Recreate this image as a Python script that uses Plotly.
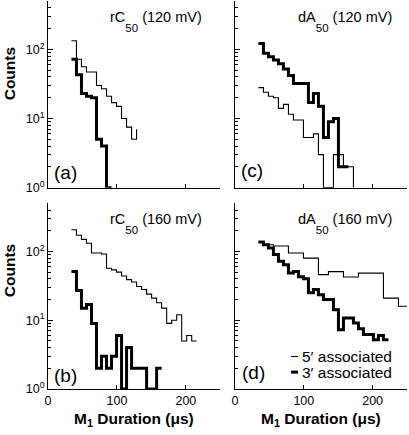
import numpy as np
import plotly.graph_objects as go

# ---- data (counts per histogram bin) ----
bin_start_us = 34.0      # first bin edge (µs)
bin_width_us = 7.27      # bin width (µs)

# (a) rC50, 120 mV
a_5prime = [133, 72, 56, 47, 47, 30, 27, 21, 17, 15, 10, 7.5, 5, 7]
a_3prime = [72, 43, 23, 21, 20, 5, 4, 1, 1]
# (b) rC50, 160 mV
b_5prime = [207, 172, 150, 132, 95, 95, 92, 57, 54, 50, 44, 39, 36, 31, 28, 24,
            21, 18, 15, 9, 10, 12, 5, 6, 5, 5]
b_3prime = [51, 27, 15, 17, 9, 2, 3, 2, 3, 6, 1, 4, 2, 2, 2, 1, 1, 2, 2]
# (c) dA50, 120 mV
c_5prime = [28, 24, 21, 20, 14, 16, 11.5, 9.5, 9.5, 5.3, 5.3, 6, 3, 1, 1, 3, 3,
            2, 2, 1]
c_3prime = [122, 88, 78, 70, 62, 52, 42, 32, 32, 32, 17, 23, 15, 5.3, 9, 10, 2,
            2, 2]
# (d) dA50, 160 mV
d_5prime = [135, 125, 125, 120, 120, 120, 95, 95, 95, 80, 80, 80, 46, 46, 51, 51,
            51, 42.5, 42.5, 42.5, 48.5, 48.5, 48.5, 48.5, 48.5, 21, 21, 21, 16,
            16, 16]
d_3prime = [137, 125, 112, 90, 72, 64, 48.5, 51, 43, 40, 25, 28, 23.5, 20, 20,
            14.2, 7.3, 10.8, 10.8, 9.1, 7.5, 6.2, 6.2, 5.2, 6, 5.2, 5.2]

panel_molecules = [("rC", "50"), ("dA", "50"), ("rC", "50"), ("dA", "50")]
panel_voltages = ["(120 mV)", "(120 mV)", "(160 mV)", "(160 mV)"]
panel_letters = ["(a)", "(c)", "(b)", "(d)"]
series_names = ["5\u2032 associated", "3\u2032 associated"]
series_widths = [1.1, 3]
ytick_vals = [1, 10, 100]
ytick_text = ["10<sup>0</sup>", "10<sup>1</sup>", "10<sup>2</sup>"]
xtick_vals = [0, 100, 200]

FONT = "Liberation Sans, Arial, sans-serif"

def edges_for(vals):
    n = len(vals)  # last value is the closing vertical step
    return bin_start_us + bin_width_us * np.arange(n)

fig = go.Figure()

panels = [(a_5prime, a_3prime), (c_5prime, c_3prime),
          (b_5prime, b_3prime), (d_5prime, d_3prime)]
for i, pair in enumerate(panels):
    ax = "" if i == 0 else str(i + 1)
    for vals, w, name in zip(pair, series_widths, series_names):
        fig.add_trace(go.Scatter(
            x=edges_for(vals), y=vals, mode="lines", line_shape="hv",
            line=dict(color="black", width=w), name=name,
            showlegend=False, xaxis="x" + ax, yaxis="y" + ax,
        ))

# layout geometry
xdom_left = [0, 0.48]
xdom_right = [0.521, 1]
ydom_top = [0.519, 1]
ydom_bot = [0, 0.4785]

minor_vals = [v * m for m in (1, 10, 100) for v in range(2, 10) if v * m <= 500]

def xaxis(dom, anchor, labels):
    return dict(domain=dom, anchor=anchor, range=[0, 250], showline=True,
                linecolor="black", linewidth=1, ticks="inside", ticklen=4,
                tickcolor="black", tickvals=xtick_vals, showgrid=False,
                zeroline=False, showticklabels=labels,
                tickfont=dict(size=12.5, family=FONT, color="black"))

def yaxis(dom, anchor, labels):
    return dict(domain=dom, anchor=anchor, type="log", range=[0, 2.7],
                showline=True, linecolor="black", linewidth=1, ticks="inside",
                ticklen=5, tickcolor="black", tickvals=ytick_vals,
                ticktext=ytick_text, showgrid=False, zeroline=False,
                showticklabels=labels,
                minor=dict(ticks="inside", ticklen=2.5, tickcolor="black",
                           tickmode="array", tickvals=minor_vals, showgrid=False),
                tickfont=dict(size=12.5, family=FONT, color="black"))

fig.update_layout(
    width=409, height=435,
    margin=dict(l=48, r=2, t=1, b=46),
    paper_bgcolor="white", plot_bgcolor="white",
    font=dict(family=FONT, color="black"),
    xaxis=xaxis(xdom_left, "y", False),
    yaxis=yaxis(ydom_top, "x", True),
    xaxis2=xaxis(xdom_right, "y2", False),
    yaxis2=yaxis(ydom_top, "x2", False),
    xaxis3=xaxis(xdom_left, "y3", True),
    yaxis3=yaxis(ydom_bot, "x3", True),
    xaxis4=xaxis(xdom_right, "y4", True),
    yaxis4=yaxis(ydom_bot, "x4", False),
    showlegend=False,
)

anns = []
shapes = []
refs = [("x", "y"), ("x2", "y2"), ("x3", "y3"), ("x4", "y4")]
title_xshift = [-16, -13, -16, -13]
letter_shift = [(17, 15), (17, 17), (17, 14), (18, 17)]
for i, (xr, yr) in enumerate(refs):
    mol, sub = panel_molecules[i]
    # large base font so that the subscript drops well below the baseline;
    # visible text sizes are set explicitly on the spans
    title = ("<span style='font-size:14.5px'>%s</span>"
             "<sub><span style='font-size:11.5px'>%s</span></sub>"
             "<span style='font-size:14.5px'> %s</span>") % (mol, sub, panel_voltages[i])
    anns.append(dict(text=title, xref=xr + " domain", yref=yr + " domain",
                     x=1, y=1, xanchor="right", yanchor="top",
                     xshift=title_xshift[i], yshift=-6, showarrow=False,
                     font=dict(size=48, family=FONT, color="black")))
    anns.append(dict(text=panel_letters[i], xref=xr + " domain", yref=yr + " domain",
                     x=0, y=0, xanchor="center", yanchor="middle",
                     xshift=letter_shift[i][0], yshift=letter_shift[i][1],
                     showarrow=False,
                     font=dict(size=19, family=FONT, color="black")))
# axis titles
for yr, ys in [("y", 20), ("y3", 25)]:
    anns.append(dict(text="<b>Counts</b>", xref="paper", yref=yr + " domain",
                     x=0, y=0.5, xanchor="center", yanchor="middle", xshift=-39,
                     yshift=ys, textangle=-90, showarrow=False,
                     font=dict(size=15.5, family=FONT, color="black")))
for xr in ["x3", "x4"]:
    anns.append(dict(text="<b>M<sub>1</sub> Duration (\u03bcs)</b>", xref=xr + " domain",
                     yref="paper", x=0.5, y=0, xanchor="center", yanchor="middle",
                     yshift=-30, showarrow=False,
                     font=dict(size=15.5, family=FONT, color="black")))

# legend (panel d), drawn as key lines + text
leg_y = [0.175, 0.091]
for name, w, yy in zip(series_names, series_widths, leg_y):
    shapes.append(dict(type="line", xref="x4 domain", yref="y4 domain",
                       x0=0.326, x1=0.366, y0=yy, y1=yy,
                       line=dict(color="black", width=w)))
    anns.append(dict(text=name, xref="x4 domain", yref="y4 domain",
                     x=0.376, y=yy, xanchor="left", yanchor="middle",
                     showarrow=False,
                     font=dict(size=15.5, family=FONT, color="black")))

fig.update_layout(annotations=anns, shapes=shapes)

fig.write_html("out.html", config={"displayModeBar": False},
               post_script="document.body.style.margin='0px';document.body.style.overflow='hidden';")
